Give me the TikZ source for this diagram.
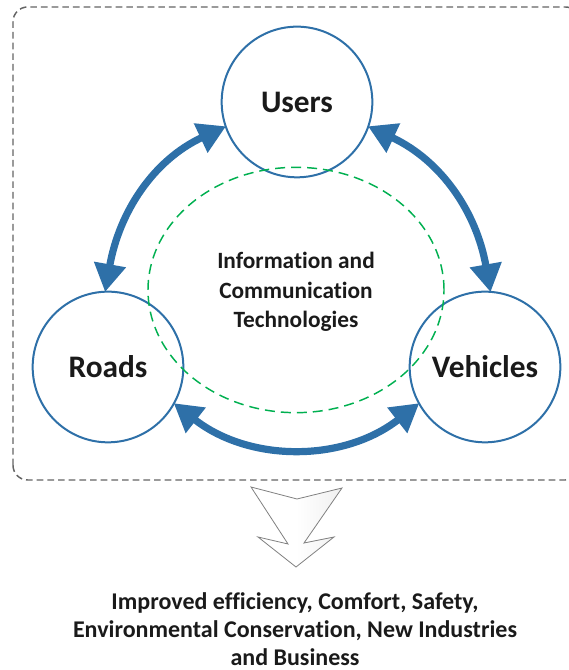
\documentclass[tikz,border=0pt]{standalone}
\usepackage{fontspec}
\setmainfont[Ligatures = NoCommon]{Carlito}
\usepackage{tikz}
\usetikzlibrary{arrows.meta}
\usetikzlibrary{shapes.geometric}
\usetikzlibrary{positioning}
\definecolor{mblue}{RGB}{46, 112, 168}
\definecolor{mgreen}{RGB}{0, 176, 80}
\definecolor{mgray}{RGB}{100, 100, 100}
\definecolor{mtext}{RGB}{26, 26, 26}
\tikzset{part/.style = {circle, draw = mblue, line width = 1.5pt, fill = white, minimum size = 113pt, inner sep = 0, text = mtext, font = \fontsize{23.5}{27}\selectfont\bfseries}}
\tikzset{link/.style = {mblue, line width = 5.4pt, {Triangle[length = 21pt, width = 23pt]}-{Triangle[length = 21pt, width = 23pt]}, shorten <= -1pt, shorten >= -1pt}}

\begin{document}
\begin{tikzpicture}[x = 0.75pt, y = 0.75pt]
    \useasboundingbox (0, 0) rectangle (568, 670);

    \draw [mgray, line width = 1.1pt, dash pattern = on 5pt off 3pt, rounded corners = 11pt] (13, 190) rectangle (580, 663);

    \node [part] (users) at (297, 568) {Users};
    \node [part] (roads) at (108, 303) {Roads};
    \node [part] (vehicles) at (485, 303) {Vehicles};

    \node [ellipse, draw = mgreen, line width = 1.1pt, dash pattern = on 7.5pt off 4.5pt, minimum width = 222pt, minimum height = 184pt] (ict) at (296, 380) {};
    \node [align = center, text = mtext, font = \fontsize{17.5}{22}\selectfont\bfseries] (icttext) at (296, 378) {Information and\\Communication\\Technologies};

    \draw [link] (users.199) to [out = 205, in = 80] (roads.92);
    \draw [link] (users.341) to [out = -25, in = 100] (vehicles.86);
    \draw [link] (roads.331) to [out = -38, in = 218] (vehicles.209);

    \draw [gray, line width = 0.6pt, left color = white, right color = gray!12, middle color = white]
      (251, 183) -- (297, 171) -- (342, 182) -- (304, 127) -- (334, 133)
      -- (296, 103) -- (258, 133) -- (288, 126) -- cycle;

    \node [align = center, text = mtext, font = \fontsize{18}{21}\selectfont\bfseries] (result) at (295, 41)
      {Improved efficiency, Comfort, Safety,\\Environmental Conservation, New Industries\\and Business};
  \end{tikzpicture}
\end{document}
